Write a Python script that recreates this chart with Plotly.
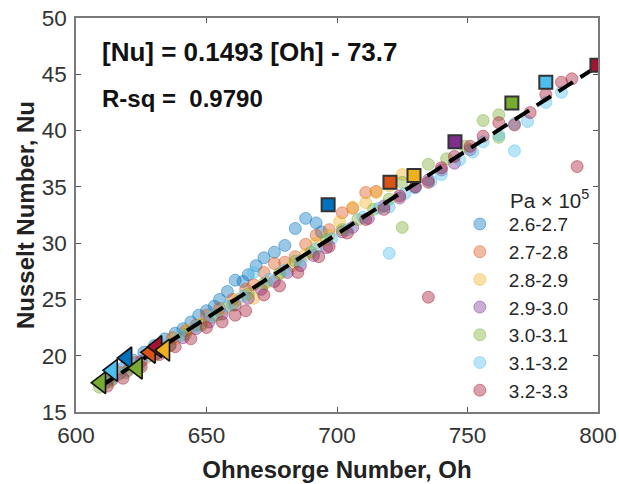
import plotly.graph_objects as go

# Pressure groups (Pa x 10^5) and MATLAB default line colours
groups = ["2.6-2.7", "2.7-2.8", "2.8-2.9", "2.9-3.0", "3.0-3.1", "3.1-3.2", "3.2-3.3"]
colors = ["#0072BD", "#D95319", "#EDB120", "#7E2F8E", "#77AC30", "#4DBEEE", "#A2142F"]

# Measured points per group: Ohnesorge number and Nusselt number
oh_26 = [613, 618, 622, 626, 630, 634, 638, 641, 644, 647, 650, 653, 655, 658, 661, 664, 666, 669, 672, 676, 680, 684, 688, 692, 694]
nu_26 = [18.0, 18.9, 19.6, 20.3, 20.9, 21.5, 22.0, 22.4, 23.0, 23.6, 24.0, 24.4, 25.0, 25.7, 26.7, 26.6, 27.2, 28.0, 28.7, 29.2, 29.8, 31.3, 32.2, 31.8, 31.0]

oh_27 = [612, 617, 623, 629, 633, 637, 642, 646, 650, 655, 660, 665, 668, 672, 676, 680, 684, 688, 692, 697, 702, 706, 711, 715]
nu_27 = [17.8, 18.5, 19.4, 20.3, 20.8, 21.6, 22.2, 22.7, 23.6, 24.2, 25.0, 25.9, 26.3, 27.4, 28.2, 28.3, 28.8, 29.9, 30.7, 31.2, 32.7, 33.1, 34.5, 34.6]

oh_28 = [611, 616, 621, 627, 632, 638, 643, 648, 652, 657, 662, 668, 673, 678, 683, 688, 692, 697, 701, 706, 711, 715, 720, 725]
nu_28 = [17.5, 18.3, 19.0, 19.8, 20.6, 21.5, 22.3, 22.8, 23.4, 24.2, 25.0, 25.1, 26.5, 27.3, 28.0, 29.0, 30.0, 30.7, 31.9, 33.2, 33.6, 34.5, 35.1, 36.1]

oh_29 = [614, 620, 625, 631, 636, 641, 646, 651, 656, 661, 666, 671, 676, 681, 686, 691, 696, 702, 706, 712, 718, 724, 730, 735, 740, 745, 751]
nu_29 = [17.9, 18.7, 19.5, 20.2, 20.9, 21.6, 22.4, 23.0, 23.7, 24.5, 25.1, 25.9, 26.6, 27.4, 28.0, 28.9, 29.6, 31.0, 31.4, 32.2, 33.3, 34.0, 35.0, 35.6, 36.5, 37.1, 38.3]

oh_30 = [609, 613, 619, 624, 630, 636, 642, 648, 654, 660, 666, 672, 678, 684, 690, 696, 702, 708, 714, 720, 725, 725, 730, 735, 742, 749, 756, 762, 762]
nu_30 = [17.2, 17.7, 18.5, 19.0, 20.0, 20.9, 21.9, 22.7, 23.6, 24.5, 25.5, 26.4, 27.3, 28.4, 29.2, 30.3, 31.2, 32.1, 33.0, 33.9, 35.4, 31.4, 35.8, 37.0, 37.5, 38.6, 40.9, 41.4, 39.4]

oh_31 = [611, 617, 622, 628, 634, 640, 646, 652, 658, 664, 668, 674, 680, 686, 692, 698, 704, 710, 716, 720, 720, 726, 730, 736, 740, 747, 752, 756, 762, 768, 768, 773, 780, 786]
nu_31 = [17.6, 18.4, 19.2, 20.0, 21.0, 21.8, 22.6, 23.5, 24.4, 25.3, 27.4, 26.8, 27.6, 28.4, 29.5, 30.4, 31.2, 32.3, 33.1, 33.2, 29.1, 34.4, 34.9, 35.5, 36.1, 37.4, 38.1, 39.0, 39.6, 40.6, 38.2, 40.8, 42.5, 43.4]

oh_32 = [612, 618, 625, 632, 638, 644, 650, 656, 661, 665, 672, 678, 685, 693, 697, 704, 711, 718, 724, 730, 735, 735, 740, 745, 751, 756, 762, 768, 774, 780, 786, 790, 792]
nu_32 = [17.3, 18.0, 19.0, 20.1, 20.8, 21.5, 22.5, 23.0, 23.6, 24.0, 25.4, 26.2, 27.4, 28.8, 29.7, 30.9, 32.1, 33.0, 34.2, 35.0, 35.4, 25.2, 36.7, 37.7, 38.6, 39.5, 40.7, 40.5, 41.6, 43.2, 44.3, 44.6, 36.8]

oh_sets = [oh_26, oh_27, oh_28, oh_29, oh_30, oh_31, oh_32]
nu_sets = [nu_26, nu_27, nu_28, nu_29, nu_30, nu_31, nu_32]

# Highlighted extreme points: squares (upper end), left triangles (lower end)
sq_oh = [696.6, 720.3, 729.5, 745.2, 767.0, 780.0, 799.6]
sq_nu = [33.4, 35.4, 36.0, 39.0, 42.45, 44.3, 45.8]
sq_group = [0, 1, 2, 3, 4, 5, 6]

tri_oh = [609.5, 614.0, 619.5, 623.5, 628.5, 631.0, 634.0]
tri_nu = [17.6, 18.7, 19.8, 18.9, 20.3, 20.8, 20.5]
tri_group = [4, 5, 0, 4, 1, 6, 2]

# Linear fit Nu = a*Oh + b
fit_a = 0.1493
fit_b = -73.7
fit_oh = [609, 800]
fit_nu = [fit_a * x + fit_b for x in fit_oh]

x_ticks = [600, 650, 700, 750, 800]
y_ticks = [15, 20, 25, 30, 35, 40, 45, 50]


def rgba(hex_color, alpha):
    h = hex_color.lstrip("#")
    r, g, b = int(h[0:2], 16), int(h[2:4], 16), int(h[4:6], 16)
    return f"rgba({r},{g},{b},{alpha})"


fig = go.Figure()

for i, name in enumerate(groups):
    fig.add_trace(go.Scatter(
        x=oh_sets[i], y=nu_sets[i], mode="markers", name=name,
        legendgroup=name,
        marker=dict(size=12, color=rgba(colors[i], 0.4),
                    line=dict(color=rgba(colors[i], 0.45), width=1)),
    ))

fig.add_trace(go.Scatter(
    x=fit_oh, y=fit_nu, mode="lines", showlegend=False,
    line=dict(color="black", width=4, dash="17px,9px"),
))

fig.add_trace(go.Scatter(
    x=tri_oh, y=tri_nu, mode="markers", showlegend=False,
    marker=dict(symbol="triangle-left", size=19,
                color=[colors[g] for g in tri_group],
                line=dict(color="#111111", width=1.6)),
))

fig.add_trace(go.Scatter(
    x=sq_oh, y=sq_nu, mode="markers", showlegend=False,
    marker=dict(symbol="square", size=13,
                color=[colors[g] for g in sq_group],
                line=dict(color="#333333", width=2)),
))

font_family = "Liberation Sans, Arial, sans-serif"

fig.update_layout(
    width=619, height=484,
    margin=dict(l=76, r=21, t=18, b=72),
    paper_bgcolor="white", plot_bgcolor="white",
    font=dict(family=font_family, color="#262626"),
    legend=dict(
        x=0.7181, y=0.525, xanchor="left", yanchor="top",
        bgcolor="rgba(0,0,0,0)", font=dict(size=19, color="#262626"),
        traceorder="normal", itemsizing="trace", itemwidth=48,
    ),
    annotations=[
        dict(text="<b>[Nu] = 0.1493 [Oh] - 73.7</b>", xref="paper", yref="paper",
             x=0.046, y=0.913, xanchor="left", yanchor="middle", showarrow=False,
             font=dict(size=26, color="#111111")),
        dict(text="<b>R-sq =  0.9790</b>", xref="paper", yref="paper",
             x=0.046, y=0.796, xanchor="left", yanchor="middle", showarrow=False,
             font=dict(size=24, color="#111111")),
        dict(text="Pa × 10<sup>5</sup>", xref="paper", yref="paper",
             x=0.828, y=0.540, xanchor="left", yanchor="middle", showarrow=False,
             font=dict(size=20.5, color="#262626")),
    ],
)

axis_common = dict(
    showline=True, linecolor="#7a7a7a", linewidth=1.5, mirror="allticks",
    ticks="inside", ticklen=5, tickwidth=1, tickcolor="#555555",
    showgrid=False, zeroline=False, automargin=False,
    tickfont=dict(size=22.5, color="#333333", family=font_family),
)

fig.update_xaxes(range=[600, 800], tickvals=x_ticks, ticklabelstandoff=2,
                 title=dict(text="<b>Ohnesorge Number, Oh</b>", font=dict(size=24, color="#222222"), standoff=14),
                 **axis_common)
fig.update_yaxes(range=[15, 50], tickvals=y_ticks, ticklabelstandoff=3,
                 title=dict(text="<b>Nusselt Number, Nu</b>", font=dict(size=24, color="#222222"), standoff=0),
                 **axis_common)

fig.write_html("out.html")
